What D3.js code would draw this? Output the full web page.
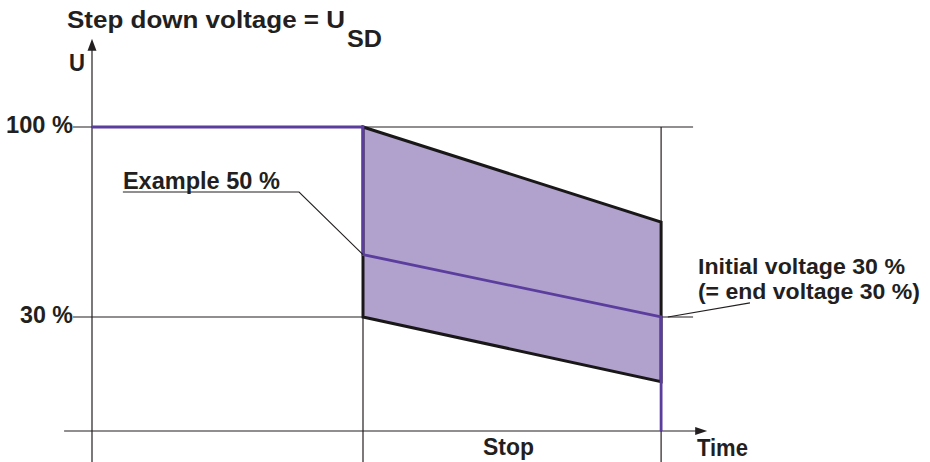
<!DOCTYPE html>
<html><head><meta charset="utf-8">
<script src="https://cdn.jsdelivr.net/npm/d3@7"></script>
<style>
body{margin:0;background:#fff}
text{font-family:"Liberation Sans",Arial,Helvetica,sans-serif;font-weight:bold;fill:#231f20}
</style>
</head><body>
<svg id="chart" width="930" height="462"></svg>
<script>
// ---- data (time in units where 0 = start, 1 = begin of stop) ----
const timeStart = 0;
const timeStop = 1;
const timeEnd = 2.1;
const levelValues = [100, 30];
const levelLabels = ["100 %", "30 %"];
const upperEnvelope = [[1, 100], [2.1, 65]];
const lowerEnvelope = [[1, 30], [2.1, 6.2]];
const exampleCurve = [[0, 100], [1, 100], [1, 53], [2.1, 30], [2.1, -12]];
const axisBaseValue = -12;
const titleText = "Step down voltage = U";
const titleSub = "SD";
const yAxisLabel = "U";
const xAxisLabel = "Time";
const stopLabel = "Stop";
const exampleLabel = "Example 50 %";
const initialLabels = ["Initial voltage 30 %", "(= end voltage 30 %)"];

const svg = d3.select("#chart");
const x = d3.scaleLinear().domain([0, 1]).range([92, 363]);
const y = d3.scaleLinear().domain([30, 100]).range([317, 127]);

const ink = "#231f20";
const purple = "#5b3d9d";
const fillPurple = "#b0a1cd";

// horizontal level lines
svg.selectAll("line.level").data(levelValues).join("line")
  .attr("class", "level")
  .attr("x1", x(-0.07)).attr("x2", x(2.218))
  .attr("y1", d => y(d)).attr("y2", d => y(d))
  .attr("stroke", ink).attr("stroke-width", 1.2);

// vertical time lines
svg.selectAll("line.tline").data([timeStop, timeEnd]).join("line")
  .attr("class", "tline")
  .attr("x1", d => x(d)).attr("x2", d => x(d))
  .attr("y1", y(100)).attr("y2", 462)
  .attr("stroke", ink).attr("stroke-width", 1.2);

// envelope area
const poly = upperEnvelope.concat(lowerEnvelope.slice().reverse());
svg.append("path")
  .attr("d", d3.line().x(d => x(d[0])).y(d => y(d[1]))(poly) + "Z")
  .attr("fill", fillPurple)
  .attr("stroke", "#1a1718").attr("stroke-width", 3).attr("stroke-linejoin", "miter");

// axes
const yAxisTop = 132.5, yAxisBottom = -23.4;
svg.append("line").attr("x1", x(timeStart)).attr("x2", x(timeStart))
  .attr("y1", y(yAxisBottom)).attr("y2", y(yAxisTop) + 8)
  .attr("stroke", ink).attr("stroke-width", 1.2);
svg.append("path")
  .attr("d", `M${x(timeStart)},${y(yAxisTop)} L${x(timeStart) - 4.5},${y(yAxisTop) + 12} L${x(timeStart) + 4.5},${y(yAxisTop) + 12} Z`)
  .attr("fill", ink);

const xAxisLeft = -0.103, xAxisRight = 2.27;
svg.append("line").attr("x1", x(xAxisLeft)).attr("x2", x(xAxisRight) - 8)
  .attr("y1", y(axisBaseValue)).attr("y2", y(axisBaseValue))
  .attr("stroke", ink).attr("stroke-width", 1.2);
svg.append("path")
  .attr("d", `M${x(xAxisRight)},${y(axisBaseValue)} L${x(xAxisRight) - 12},${y(axisBaseValue) - 4} L${x(xAxisRight) - 12},${y(axisBaseValue) + 4} Z`)
  .attr("fill", ink);

// example curve
svg.append("path")
  .attr("d", d3.line().x(d => x(d[0])).y(d => y(d[1]))(exampleCurve))
  .attr("fill", "none").attr("stroke", purple).attr("stroke-width", 2.8)
  .attr("stroke-linejoin", "miter");

// leader lines
const exUnderY = 76.05, exLeft = 0.114, exRight = 0.764;
svg.append("path")
  .attr("d", `M${x(exLeft)},${y(exUnderY)} L${x(exRight)},${y(exUnderY)} L${x(timeStop)},${y(exampleCurve[2][1])}`)
  .attr("fill", "none").attr("stroke", ink).attr("stroke-width", 1.1);
svg.append("line")
  .attr("x1", x(2.125)).attr("y1", y(30))
  .attr("x2", x(2.428)).attr("y2", y(35.2))
  .attr("stroke", ink).attr("stroke-width", 1.1);

function label(txt, px, py, size, width, anchor) {
  const t = svg.append("text").attr("x", px).attr("y", py)
    .attr("font-size", size).attr("text-anchor", anchor || "start").text(txt);
  if (width) t.attr("textLength", width).attr("lengthAdjust", "spacingAndGlyphs");
  return t;
}

// title
label(titleText, 67, 28, 24, 278);
label(titleSub, 347, 46.5, 24, 35);
label(yAxisLabel, 69, 71, 24, 16);

// level tick labels
levelLabels.forEach((l, i) => {
  label(l, x(-0.07), y(levelValues[i]) + 5.5, 23.5, i === 0 ? 67 : 53, "end");
});

// annotations
label(exampleLabel, x(exLeft), y(77.2), 23.5, 157);
label(initialLabels[0], x(2.236), y(46), 22, 207);
label(initialLabels[1], x(2.236), y(36.8), 22, 222);
label(stopLabel, (x(timeStop) + x(timeEnd)) / 2 - 3.5, 455, 23.5, 51, "middle");
label(xAxisLabel, x(2.236) - 1, 456, 23.5, 51);
</script>
</body></html>
